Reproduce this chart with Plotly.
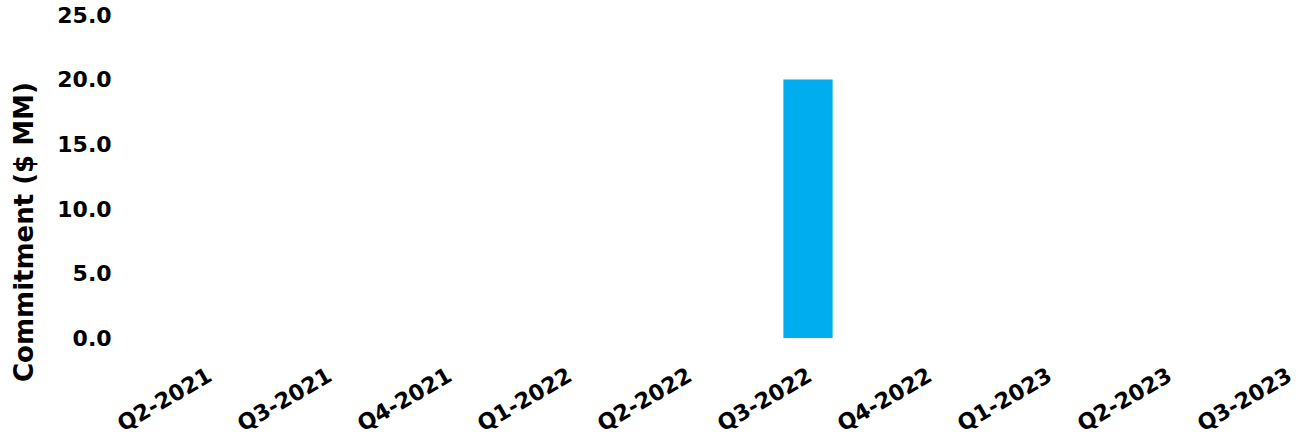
import plotly.graph_objects as go

# Quarterly commitments ($ MM)
quarters = ["Q2-2021", "Q3-2021", "Q4-2021", "Q1-2022", "Q2-2022",
            "Q3-2022", "Q4-2022", "Q1-2023", "Q2-2023", "Q3-2023"]
commitment = [0, 0, 0, 0, 0, 20, 0, 0, 0, 0]
y_ticks = [0, 5, 10, 15, 20, 25]
y_tick_labels = ["0.0", "5.0", "10.0", "15.0", "20.0", "25.0"]

FONT = "DejaVu Sans"

fig = go.Figure(
    go.Bar(
        x=quarters,
        y=commitment,
        marker=dict(color="#00AEEF", line=dict(width=0)),
        width=0.41,
        hoverinfo="x+y",
    )
)

fig.update_layout(
    width=1298,
    height=440,
    margin=dict(l=148, r=0, t=15, b=102),
    paper_bgcolor="white",
    plot_bgcolor="white",
    showlegend=False,
    font=dict(family=FONT, color="black"),
    annotations=[
        dict(
            text="Commitment ($ MM)",
            textangle=-90,
            xref="paper", yref="paper",
            x=-148 / 1150, y=(440 - 232 - 102) / 323,
            xanchor="left", yanchor="middle",
            xshift=7,
            showarrow=False,
            font=dict(family=FONT, size=26, weight="bold", color="black"),
        )
    ],
)

fig.update_xaxes(
    type="category",
    range=[-0.5, -0.5 + 1150 / 120],
    tickangle=-30,
    tickfont=dict(family=FONT, size=22, weight="bold", color="black"),
    showgrid=False,
    showline=False,
    zeroline=False,
    ticks="outside",
    ticklen=16,
    tickcolor="rgba(0,0,0,0)",
)

fig.update_yaxes(
    range=[0, 25],
    tickvals=y_ticks,
    ticktext=y_tick_labels,
    tickfont=dict(family=FONT, size=22, weight="bold", color="black"),
    showgrid=False,
    showline=False,
    zeroline=False,
    ticks="outside",
    ticklen=31,
    tickcolor="rgba(0,0,0,0)",
)

fig.write_html("out.html")
